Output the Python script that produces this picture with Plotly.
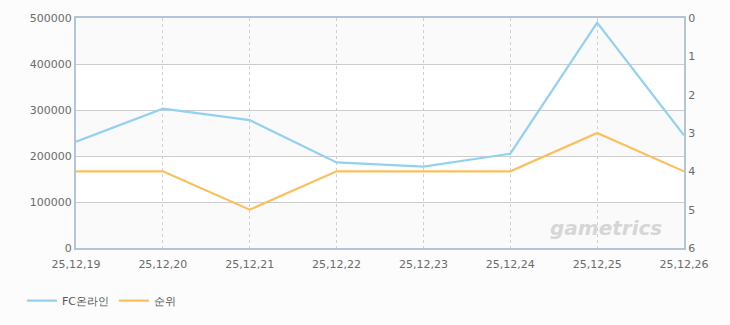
import plotly.graph_objects as go

dates = ["25,12,19", "25,12,20", "25,12,21", "25,12,22", "25,12,23", "25,12,24", "25,12,25", "25,12,26"]
users = [231000, 303000, 278000, 186000, 177000, 205000, 490000, 245000]
rank = [4, 4, 5, 4, 4, 4, 3, 4]
left_ticks = [0, 100000, 200000, 300000, 400000, 500000]
right_ticks = [0, 1, 2, 3, 4, 5, 6]

FONT = "DejaVu Sans"
TICK = "#6b6b6b"

fig = go.Figure()
fig.add_trace(go.Scatter(x=list(range(len(dates))), y=users, name="FC온라인", mode="lines",
                         line=dict(color="#92d1f0", width=2.2), yaxis="y"))
fig.add_trace(go.Scatter(x=list(range(len(dates))), y=rank, name="순위", mode="lines",
                         line=dict(color="#fbbf5c", width=2.2), yaxis="y2"))

# alternating plot bands
for i in range(0, len(left_ticks) - 1):
    if i % 2 == 0:
        fig.add_shape(type="rect", xref="paper", yref="y", x0=0, x1=1,
                      y0=left_ticks[i], y1=left_ticks[i + 1],
                      fillcolor="#fafafa", line_width=0, layer="below")

fig.add_annotation(text="<b><i>gametrics</i></b>", xref="paper", yref="paper",
                   x=0.872, y=0.085, xanchor="center", yanchor="middle", showarrow=False,
                   font=dict(family=FONT, size=20, color="#d6d6d6"))

fig.update_layout(
    width=730, height=325,
    margin=dict(l=76, r=46, t=16, b=77),
    paper_bgcolor="#fcfcfc", plot_bgcolor="#ffffff",
    font=dict(family=FONT, size=11, color=TICK),
    showlegend=True,
    legend=dict(orientation="h", xref="container", yref="container", x=0.03, y=0.075,
                xanchor="left", yanchor="middle", font=dict(size=11, color="#555555"),
                itemwidth=30, tracegroupgap=0, bgcolor="rgba(0,0,0,0)"),
    xaxis=dict(tickmode="array", tickvals=list(range(len(dates))), ticktext=dates,
               range=[0, len(dates) - 1], showgrid=True, gridcolor="#cfcfcf", griddash="3px,3px",
               gridwidth=1, showline=True, linecolor="#b3c6d9", linewidth=2, mirror=True,
               ticks="outside", ticklen=5, tickcolor="rgba(0,0,0,0)",
               tickfont=dict(size=11, color=TICK), zeroline=False),
    yaxis=dict(range=[0, 500000], tickvals=left_ticks, ticktext=[str(v) for v in left_ticks],
               showgrid=True, gridcolor="#cccccc", gridwidth=1, zeroline=False,
               showline=True, linecolor="#b3c6d9", linewidth=2, ticks="",
               tickfont=dict(size=11, color=TICK)),
    yaxis2=dict(range=[6, 0], tickvals=right_ticks, overlaying="y", side="right",
                showgrid=False, zeroline=False, showline=True, linecolor="#b3c6d9",
                linewidth=2, ticks="", tickfont=dict(size=11, color=TICK)),
)

fig.write_html("out.html")
